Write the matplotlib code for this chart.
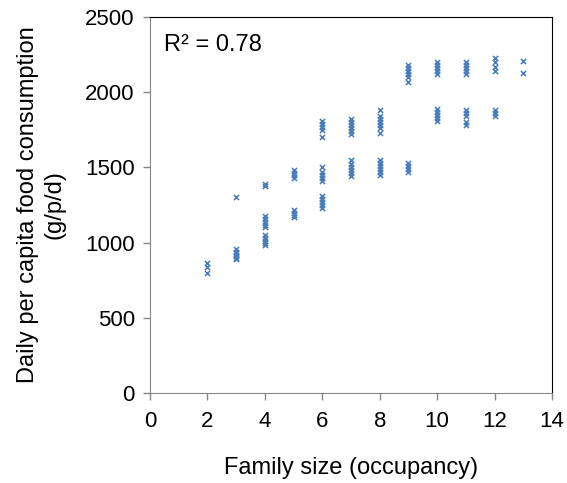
import matplotlib
matplotlib.use("Agg")
import matplotlib.pyplot as plt

plt.rcParams["font.family"] = ["Liberation Sans", "DejaVu Sans"]

# Data: family size vs daily per capita food consumption (g/p/d)
size_2 = [865, 835, 800]
size_3 = [1305, 955, 940, 930, 920, 910, 900, 890]
size_4 = [1390, 1375, 1175, 1160, 1140, 1120, 1105, 1050, 1030, 1010, 995, 985]
size_5 = [1480, 1465, 1450, 1430, 1220, 1200, 1185, 1170]
size_6 = [1810, 1790, 1770, 1750, 1700, 1500, 1470, 1450, 1430, 1410,
          1310, 1290, 1270, 1250, 1230]
size_7 = [1820, 1800, 1780, 1760, 1740, 1720, 1550, 1520, 1500, 1480, 1460, 1440]
size_8 = [1880, 1840, 1820, 1800, 1780, 1760, 1730, 1550, 1530, 1510, 1490, 1470, 1450]
size_9 = [2180, 2160, 2140, 2120, 2100, 2070, 1530, 1510, 1490, 1470]
size_10 = [2200, 2180, 2160, 2140, 2120, 1890, 1870, 1850, 1830, 1810]
size_11 = [2200, 2180, 2160, 2140, 2120, 1880, 1860, 1840, 1800, 1780]
size_12 = [2230, 2200, 2170, 2140, 1880, 1860, 1840]
size_13 = [2210, 2130]

groups = {2: size_2, 3: size_3, 4: size_4, 5: size_5, 6: size_6, 7: size_7,
          8: size_8, 9: size_9, 10: size_10, 11: size_11, 12: size_12, 13: size_13}

xs, ys = [], []
for k, vals in groups.items():
    xs += [k] * len(vals)
    ys += vals

fig = plt.figure(figsize=(5.67, 4.83), dpi=100)
ax = fig.add_axes([150/567, 90/483, 402/567, 376/483])

ax.scatter(xs, ys, marker="x", s=14, linewidths=1.1, color="#4A7EBB")

ax.set_xlim(0, 14)
ax.set_ylim(0, 2500)
ax.set_xticks(range(0, 15, 2))
ax.set_yticks(range(0, 2501, 500))
ax.tick_params(direction="out", length=5, width=1, color="#868686",
               labelsize=16)
ax.tick_params(axis="x", pad=8)
ax.tick_params(axis="y", pad=6)
for s in ["left", "bottom"]:
    ax.spines[s].set_color("#868686")
for s in ["top", "right"]:
    ax.spines[s].set_color("black")

ax.set_xlabel("Family size (occupancy)", fontsize=17, labelpad=18)
ax.set_ylabel("Daily per capita food consumption\n(g/p/d)", fontsize=17,
              labelpad=14, linespacing=1.3)
ax.text(0.035, 0.955, "R² = 0.78", transform=ax.transAxes, fontsize=17,
        va="top", ha="left")

plt.savefig("out.png", dpi=100)
